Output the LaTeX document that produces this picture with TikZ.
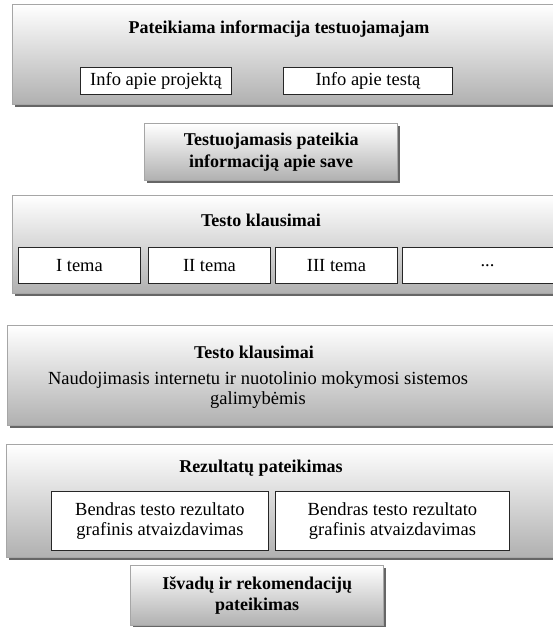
\documentclass[tikz,border=0pt]{standalone}
\usepackage{fontspec}
\setmainfont{Liberation Serif}
\usetikzlibrary{shadows}
\newcommand\regfont{\fontsize{18.5}{20}\selectfont}
\newcommand\titfont{\bfseries\fontsize{18}{21.5}\selectfont}
\tikzset{
 bigbox/.style={draw=black!35, line width=1.4pt, top color=white, bottom color=black!31,
   drop shadow={shadow xshift=2pt, shadow yshift=-2.5pt, fill=black!60, opacity=1},
   anchor=north west, inner sep=0pt, align=center, font=\titfont},
 whitebox/.style={draw=black!85, line width=0.9pt, fill=white, anchor=north west,
   inner sep=0pt, align=center, font=\regfont},
 titletext/.style={font=\titfont, inner sep=0pt, align=center},
 bodytext/.style={font=\regfont, inner sep=0pt, align=center},
}
\begin{document}
\begin{tikzpicture}[x=1pt,y=-1pt]
\useasboundingbox (0,0) rectangle (553,627);
\fill[white] (0,0) rectangle (553,627);
\clip (0,0) rectangle (553,627);
% block 1
\node[bigbox, minimum width=600pt, minimum height=100pt] (b1) at (12,4) {};
\node[titletext] (t1) at (279,29) {Pateikiama informacija testuojamajam};
\node[whitebox, minimum width=151pt, minimum height=27pt] (p1) at (80,67) {Info apie projektą};
\node[whitebox, minimum width=169pt, minimum height=27pt] (p2) at (283,67) {Info apie testą};
% block 2
\node[bigbox, minimum width=253pt, minimum height=57pt] (b2) at (144,123) {Testuojamasis pateikia\\informaciją apie save};
% block 3
\node[bigbox, minimum width=600pt, minimum height=98pt] (b3) at (12,195) {};
\node[titletext] (t3) at (261,220) {Testo klausimai};
\node[whitebox, minimum width=122pt, minimum height=36pt] (q1) at (18,247) {I tema};
\node[whitebox, minimum width=122pt, minimum height=36pt] (q2) at (148,247) {II tema};
\node[whitebox, minimum width=122pt, minimum height=36pt] (q3) at (275,247) {III tema};
\node[whitebox, minimum width=170pt, minimum height=36pt] (q4) at (402,247) {...};
% block 4
\node[bigbox, minimum width=600pt, minimum height=100pt] (b4) at (7,325) {};
\node[titletext] (t4) at (254,352) {Testo klausimai};
\node[bodytext] (n4) at (258,390) {Naudojimasis internetu ir nuotolinio mokymosi sistemos\\galimybėmis};
% block 5
\node[bigbox, minimum width=600pt, minimum height=113pt] (b5) at (6,444) {};
\node[titletext] (t5) at (261,468) {Rezultatų pateikimas};
\node[whitebox, minimum width=217pt, minimum height=59pt] (r1) at (51,491) {Bendras testo rezultato\\grafinis atvaizdavimas};
\node[whitebox, minimum width=234pt, minimum height=59pt] (r2) at (275,491) {Bendras testo rezultato\\grafinis atvaizdavimas};
% block 6
\node[bigbox, minimum width=253pt, minimum height=60pt] (b6) at (130,565) {Išvadų ir rekomendacijų\\pateikimas};
\end{tikzpicture}
\end{document}
